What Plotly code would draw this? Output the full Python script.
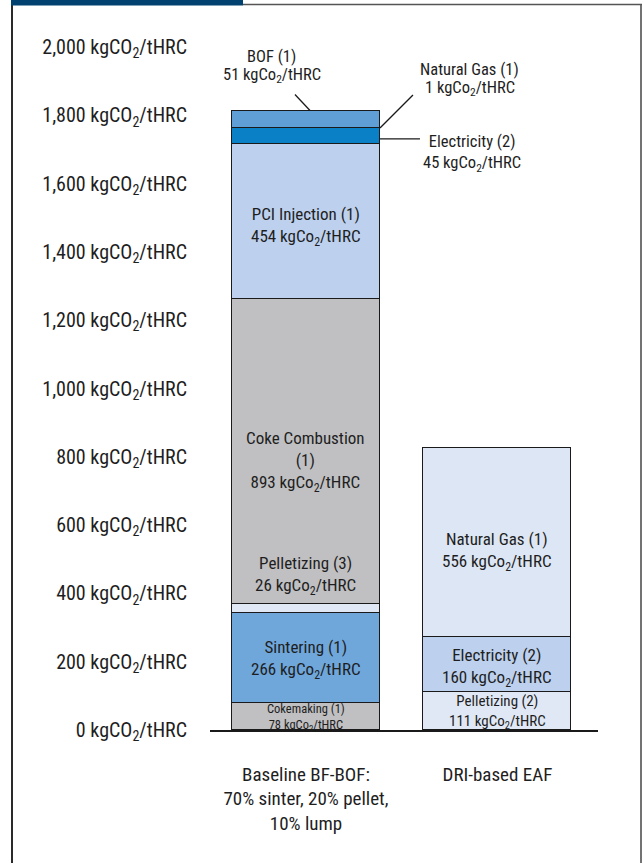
import plotly.graph_objects as go
import numpy as np

# ---------------- data ----------------
categories = ["Baseline BF-BOF:<br>70% sinter, 20% pellet,<br>10% lump", "DRI-based EAF"]

bof_segments = ["Cokemaking (1)", "Sintering (1)", "Pelletizing (3)", "Coke Combustion<br>(1)",
                "PCI Injection (1)", "Electricity (2)", "Natural Gas (1)", "BOF (1)"]
bof_values = [78, 266, 26, 893, 454, 45, 1, 51]
bof_colors = ["#c0c0c2", "#6fa7db", "#e0e8f5", "#c0c0c2", "#bdd1ee", "#0a80c6", "#0a80c6", "#609ed6"]

eaf_segments = ["Pelletizing (2)", "Electricity (2)", "Natural Gas (1)"]
eaf_values = [111, 160, 556]
eaf_colors = ["#e0e8f5", "#bdd1ee", "#dde6f4"]

tick_values = list(range(0, 2001, 200))
tick_labels = [f"{v:,} kgCO<sub>2</sub>/tHRC" for v in tick_values]

FONT = "Liberation Sans Narrow, Roboto Condensed, DejaVu Sans Condensed, Arial Narrow, sans-serif"
TXT = "#1e1e1e"
W, H = 644, 863
ML, MR, MT, MB = 210, 46, 47, 133
BARW = 0.773

fig = go.Figure()

def add_stack(xcat, names, vals, cols):
    for n, v, c in zip(names, vals, cols):
        fig.add_trace(go.Bar(x=[xcat], y=[v], width=BARW, name=n.replace("<br>", " "),
                             marker=dict(color=c, line=dict(color="#1a1a1a", width=1.5)),
                             hoverinfo="skip", showlegend=False))

add_stack(categories[0], bof_segments, bof_values, bof_colors)
add_stack(categories[1], eaf_segments, eaf_values, eaf_colors)

def unit(val):
    return f"{val} kgCo<sub>2</sub>/tHRC"

def lbl(name, val):
    return f"{name}<br>{unit(val)}"

ann = []
# --- segment labels inside / around BOF bar ---
cum = np.cumsum([0] + bof_values)
for i, (n, v) in enumerate(zip(bof_segments, bof_values)):
    mid = (cum[i] + cum[i + 1]) / 2
    top = cum[i + 1]
    if n.startswith("Cokemaking"):
        ann.append(dict(x=categories[0], y=mid, text=lbl(n, v), yshift=-1, font=dict(size=12.5),
                        borderpad=0))
    elif n.startswith("Sintering"):
        ann.append(dict(x=categories[0], y=mid, text=lbl(n, v), yshift=-2, font=dict(size=17)))
    elif n.startswith("Pelletizing"):
        ann.append(dict(x=categories[0], y=top, text=lbl(n, v), yanchor="bottom", yshift=4,
                        font=dict(size=17)))
    elif n.startswith("Coke Combustion"):
        ann.append(dict(x=categories[0], y=mid, text=lbl(n, v), yshift=-10, font=dict(size=17)))
    elif n.startswith("PCI"):
        ann.append(dict(x=categories[0], y=mid, text=lbl(n, v), yshift=-5, font=dict(size=17)))
    elif n.startswith("BOF"):
        ann.append(dict(x=categories[0], y=top, text=n, xshift=-34, yshift=54, font=dict(size=16.5)))
        ann.append(dict(x=categories[0], y=top, text=unit(v), xshift=-34, yshift=35, font=dict(size=16.5)))
    elif n.startswith("Natural"):
        ann.append(dict(x=categories[0], y=top, text=n, xshift=164, yshift=58, font=dict(size=16.5)))
        ann.append(dict(x=categories[0], y=top, text=unit(v), xshift=164, yshift=39, font=dict(size=16.5)))
    elif n.startswith("Electricity"):
        ann.append(dict(x=categories[0], y=mid, text=lbl(n, v), xshift=166, yshift=-18,
                        font=dict(size=16.5)))

# --- segment labels inside EAF bar ---
cum2 = np.cumsum([0] + eaf_values)
for i, (n, v) in enumerate(zip(eaf_segments, eaf_values)):
    mid = (cum2[i] + cum2[i + 1]) / 2
    if n.startswith("Pelletizing"):
        ann.append(dict(x=categories[1], y=mid, text=lbl(n, v), yshift=-1, font=dict(size=15)))
    elif n.startswith("Natural"):
        ann.append(dict(x=categories[1], y=mid, text=lbl(n, v), yshift=-9, font=dict(size=17)))
    else:
        ann.append(dict(x=categories[1], y=mid, text=lbl(n, v), yshift=-3, font=dict(size=17)))

for a in ann:
    a.update(xref="x", yref="y", showarrow=False, align="center")
    a["font"].update(family=FONT, color=TXT)

# --- leader lines (anchored to bar geometry, pixel offsets) ---
bof_top = sum(bof_values)
ng_top = sum(bof_values[:7])
el_mid = sum(bof_values[:5]) + bof_values[5] / 2
shapes = [
    dict(type="line", xref="x", yref="y", xsizemode="pixel", ysizemode="pixel",
         xanchor=0, yanchor=bof_top, x0=-11, y0=16, x1=4, y1=0,
         line=dict(color="#1a1a1a", width=1.3)),
    dict(type="line", xref="x", yref="y", xsizemode="pixel", ysizemode="pixel",
         xanchor=BARW / 2, yanchor=ng_top, x0=0, y0=0, x1=33, y1=33,
         line=dict(color="#1a1a1a", width=1.3)),
    dict(type="line", xref="x", yref="y", xsizemode="pixel", ysizemode="pixel",
         xanchor=BARW / 2, yanchor=el_mid, x0=0, y0=-3, x1=40, y1=-3,
         line=dict(color="#1a1a1a", width=1.3)),
]

# --- frame ---
pw, ph = W - ML - MR, H - MT - MB
def px(xp):
    return (xp - ML) / pw
def py(yp):
    return (H - MB - yp) / ph

shapes += [
    dict(type="line", xref="paper", yref="paper", x0=px(12), x1=px(12), y0=py(4), y1=py(870),
         line=dict(color="#2a2a2a", width=2)),
    dict(type="line", xref="paper", yref="paper", x0=px(641), x1=px(641), y0=py(4.5), y1=py(870),
         line=dict(color="#444444", width=1.5)),
    dict(type="line", xref="paper", yref="paper", x0=px(243), x1=px(642), y0=py(4.5), y1=py(4.5),
         line=dict(color="#555555", width=1.5)),
    dict(type="rect", xref="paper", yref="paper", x0=px(11), x1=px(243), y0=py(-1), y1=py(5.5),
         fillcolor="#00416f", line=dict(width=0)),
]

fig.update_layout(
    width=W, height=H, barmode="stack", bargap=0,
    margin=dict(l=ML, r=MR, t=MT, b=MB, pad=0),
    paper_bgcolor="white", plot_bgcolor="white",
    font=dict(family=FONT, color=TXT),
    annotations=ann, shapes=shapes,
    xaxis=dict(type="category", range=[-0.501, 1.525], showgrid=False, zeroline=False,
               showline=True, linecolor="#1a1a1a", linewidth=1.5, ticks="",
               tickfont=dict(size=19, family=FONT, color=TXT), ticklabelstandoff=26),
    yaxis=dict(range=[0, 2000], tickvals=tick_values, ticktext=tick_labels, showgrid=False,
               zeroline=False, showline=False, ticks="", ticklabelstandoff=22,
               tickfont=dict(size=20, family=FONT, color=TXT)),
)

fig.write_html("out.html")
